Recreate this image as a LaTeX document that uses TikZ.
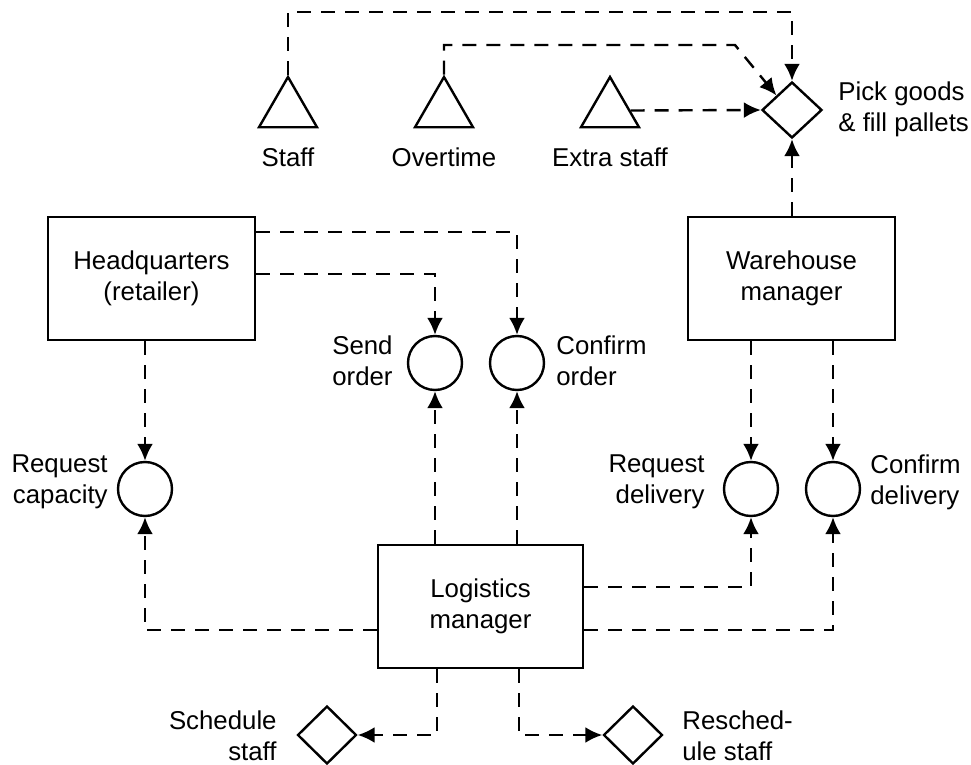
\documentclass[tikz,border=0pt]{standalone}
\usepackage{fontspec}
\setmainfont{Liberation Sans}
\usetikzlibrary{shapes.geometric,arrows.meta,calc}
\begin{document}
\begin{tikzpicture}[x=0.5pt,y=-0.5pt,
  every node/.style={font=\fontsize{12.9}{15.5}\selectfont},
  conn/.style={line width=1.2pt,dash pattern=on 7pt off 5pt,-{Latex[length=8.5pt,width=8pt]}},
  box/.style={draw,line width=1.2pt,minimum width=103.5pt,minimum height=61.5pt,align=center,inner sep=0},
  circ/.style={draw,circle,line width=1.2pt,minimum size=27pt,inner sep=0},
  dia/.style={draw,diamond,line width=1.2pt,inner sep=0},
  tri/.style={draw,regular polygon,regular polygon sides=3,line width=1.2pt,minimum size=33.5pt,inner sep=0},
  labl/.style={align=left,inner sep=0,anchor=west},
  labr/.style={align=right,inner sep=0,anchor=east},
  labc/.style={align=center,inner sep=0}
]
\useasboundingbox (0,0) rectangle (971,765);

% top resources
\node[tri] (staff) at (288,110.5) {};
\node[tri] (ot) at (444,110.5) {};
\node[tri] (ext) at (610,110.5) {};
\node[labc] (staffl) at (288,157) {Staff};
\node[labc] (otl) at (444,157) {Overtime};
\node[labc] (extl) at (610,157) {Extra staff};

\node[dia,minimum width=30pt,minimum height=28pt] (pick) at (792,110) {};
\node[labl] (pickl) at (838,109) {Pick goods\\\& fill pallets};

\coordinate (stbend) at (288,12);
\coordinate (otbend) at (735,45);

\draw[conn] (staff.corner 1) -- (stbend) -| (pick.north);
\draw[conn] (ot.corner 1) -- (ot.corner 1 |- otbend) -- (otbend) -- (pick.north west);
\draw[conn] (ext.east) -- (pick.west);

% boxes
\node[box] (hq) at (151.5,278.5) {Headquarters\\(retailer)};
\node[box] (wh) at (791.5,278.5) {Warehouse\\manager};
\node[box,minimum width=102.5pt] (lm) at (480.5,606.5) {Logistics\\manager};

% circles
\node[circ] (rc) at (145,489) {};
\node[circ] (so) at (435,363) {};
\node[circ] (co) at (517,363) {};
\node[circ] (rd) at (751,489) {};
\node[circ] (cd) at (833,489) {};

\node[labr] (rcl) at (108,482) {Request\\capacity};
\node[labr] (sol) at (393,361) {Send\\order};
\node[labl] (col) at (556,361) {Confirm\\order};
\node[labr] (rdl) at (705,482) {Request\\delivery};
\node[labl] (cdl) at (870,482) {Confirm\\delivery};

% bottom decisions
\node[dia,minimum width=29.5pt,minimum height=29pt] (sch) at (327,735) {};
\node[dia,minimum width=29.5pt,minimum height=29pt] (rsch) at (633,735) {};
\node[labr] (schl) at (277,736) {Schedule\\staff};
\node[labl] (rschl) at (682,736) {Resched-\\ule staff};

% connectors
\draw[conn] (wh.north -| pick.south) -- (pick.south);
\draw[conn] ([yshift=23.25pt]hq.east) -| (co.north);
\draw[conn] ([yshift=2.25pt]hq.east) -| (so.north);
\draw[conn] (rc.north |- hq.south) -- (rc.north);
\draw[conn] (rd.north |- wh.south) -- (rd.north);
\draw[conn] (cd.north |- wh.south) -- (cd.north);
\draw[conn] (so.south |- lm.north) -- (so.south);
\draw[conn] (co.south |- lm.north) -- (co.south);
\draw[conn] ([yshift=-11.75pt]lm.west) -| (rc.south);
\draw[conn] ([yshift=9.75pt]lm.east) -| (rd.south);
\draw[conn] ([yshift=-11.75pt]lm.east) -| (cd.south);
\draw[conn] ([xshift=1pt]so.south |- lm.south) |- (sch.east);
\draw[conn] ([xshift=1pt]co.south |- lm.south) |- (rsch.west);
\end{tikzpicture}
\end{document}
